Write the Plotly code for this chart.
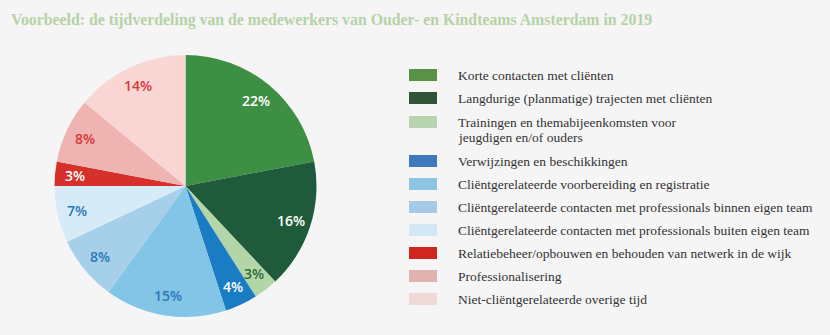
import math
import plotly.graph_objects as go

W, H = 830, 335

categories = [
    "Korte contacten met cliënten",
    "Langdurige (planmatige) trajecten met cliënten",
    "Trainingen en themabijeenkomsten voor<br>jeugdigen en/of ouders",
    "Verwijzingen en beschikkingen",
    "Cliëntgerelateerde voorbereiding en registratie",
    "Cliëntgerelateerde contacten met professionals binnen eigen team",
    "Cliëntgerelateerde contacten met professionals buiten eigen team",
    "Relatiebeheer/opbouwen en behouden van netwerk in de wijk",
    "Professionalisering",
    "Niet-cliëntgerelateerde overige tijd",
]
values = [22, 16, 3, 4, 15, 8, 7, 3, 8, 14]
slice_colors = ["#3d8f43", "#1f5b3a", "#b2d6a8", "#1a7cc2", "#82c5e6",
                "#a6cfe9", "#d6ebf7", "#d5302a", "#efb4b1", "#f9d6d4"]
legend_colors = ["#5a9149", "#2f5439", "#b8d4ae", "#3f78bd", "#8dc4e4",
                 "#a5c9e6", "#d3e8f5", "#d1261f", "#e0b2b0", "#f0d8d4"]
label_colors = ["#ffffff", "#ffffff", "#2f6b3a", "#ffffff", "#2b79b6",
                "#2b79b6", "#2b79b6", "#ffffff", "#d7383a", "#d7383a"]
title_text = "Voorbeeld: de tijdverdeling van de medewerkers van Ouder- en Kindteams Amsterdam in 2019"

def px_x(x):
    return x / W

def px_y(y):
    return 1 - y / H

# pie placement (pixels)
PIE_L, PIE_R, PIE_T, PIE_B = 54, 317, 55, 317
cx, cy = (PIE_L + PIE_R) / 2, (PIE_T + PIE_B) / 2
R = min(PIE_R - PIE_L, PIE_B - PIE_T) / 2

fig = go.Figure()
fig.add_trace(go.Pie(
    labels=[c.replace("<br>", " ") for c in categories],
    values=values,
    sort=False,
    direction="clockwise",
    rotation=0,
    marker=dict(colors=slice_colors, line=dict(width=0)),
    textinfo="none",
    domain=dict(x=[px_x(PIE_L), px_x(PIE_R)], y=[px_y(PIE_B), px_y(PIE_T)]),
    showlegend=False,
    hoverinfo="label+percent",
))

shapes = []
annotations = []

# percentage labels placed along each slice's mid-angle
total = sum(values)
cum = 0
for v, col in zip(values, label_colors):
    ang = (cum + v / 2) / total * 2 * math.pi
    cum += v
    r = 0.85 * R
    x = cx + r * math.sin(ang)
    y = cy - r * math.cos(ang)
    annotations.append(dict(xref="paper", yref="paper", x=px_x(x), y=px_y(y),
                            xanchor="center", yanchor="middle", text=f"{v}%",
                            showarrow=False,
                            font=dict(family="Open Sans", size=14, color=col, weight=600)))

row_y = [75, 98, 122, 161, 184, 207, 230, 253, 276, 299]
for i, cat in enumerate(categories):
    yc = row_y[i]
    shapes.append(dict(type="rect", xref="paper", yref="paper",
                       x0=px_x(409), x1=px_x(437), y0=px_y(yc + 6), y1=px_y(yc - 6),
                       fillcolor=legend_colors[i], line=dict(width=0)))
    for j, line in enumerate(cat.split("<br>")):
        annotations.append(dict(xref="paper", yref="paper", x=px_x(456), y=px_y(yc + 15 * j),
                                xanchor="left", yanchor="middle", align="left",
                                text=line, showarrow=False,
                                font=dict(family="Liberation Serif", size=13.5, color="#333333")))

annotations.append(dict(xref="paper", yref="paper", x=px_x(9), y=px_y(20),
                        xanchor="left", yanchor="middle", text=title_text, showarrow=False,
                        font=dict(family="Liberation Serif", size=15.8, color="#b5d2a8", weight="bold")))

fig.update_layout(
    width=W, height=H,
    margin=dict(l=0, r=0, t=0, b=0),
    paper_bgcolor="#f5f5f5",
    plot_bgcolor="#f5f5f5",
    shapes=shapes,
    annotations=annotations,
)
fig.write_html("out.html")
